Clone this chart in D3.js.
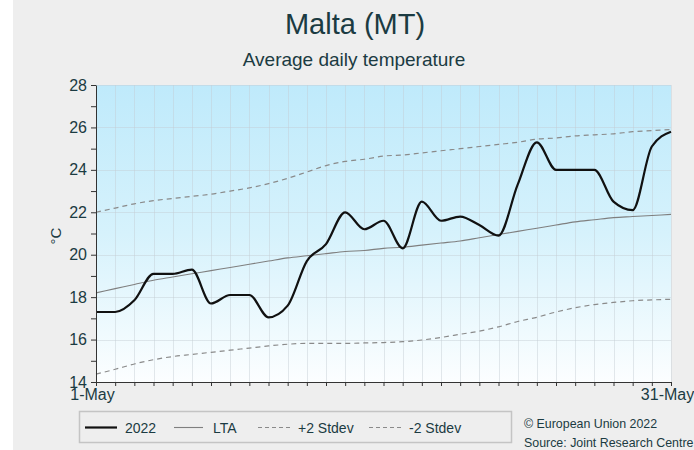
<!DOCTYPE html>
<html>
<head>
<meta charset="utf-8">
<script src="https://cdn.jsdelivr.net/npm/d3@7"></script>
<style>
  html, body { margin: 0; padding: 0; background: #ffffff; }
  svg { display: block; font-family: "Liberation Sans", Arial, sans-serif; }
</style>
</head>
<body>
<svg id="chart" width="694" height="450"></svg>
<script>
// Daily series for May 2022 (day 1..31), °C
const days = d3.range(1, 32);
const temp2022 = [17.3, 17.3, 17.85, 19.1, 19.1, 19.3, 17.7, 18.1, 18.1, 17.05, 17.6,
  19.7, 20.5, 22.0, 21.2, 21.6, 20.3, 22.5, 21.6, 21.8, 21.4, 20.9,
  23.3, 25.3, 24.0, 24.0, 24.0, 22.5, 22.1, 25.1, 25.8];
const lta = [18.2, 18.4, 18.6, 18.8, 18.95, 19.1, 19.25, 19.4, 19.55, 19.7, 19.85,
  19.95, 20.05, 20.15, 20.2, 20.3, 20.35, 20.45, 20.55, 20.65, 20.8, 20.95,
  21.1, 21.25, 21.4, 21.55, 21.65, 21.75, 21.8, 21.85, 21.9];
const plus2sd = [22.0, 22.2, 22.4, 22.55, 22.65, 22.75, 22.85, 23.0, 23.15, 23.35, 23.6,
  23.9, 24.2, 24.4, 24.5, 24.65, 24.7, 24.8, 24.9, 25.0, 25.1, 25.2,
  25.3, 25.45, 25.5, 25.6, 25.65, 25.7, 25.8, 25.85, 25.9];
const minus2sd = [14.37, 14.6, 14.85, 15.05, 15.2, 15.3, 15.4, 15.5, 15.6, 15.7, 15.78,
  15.82, 15.82, 15.82, 15.84, 15.86, 15.9, 15.98, 16.1, 16.25, 16.4, 16.6,
  16.85, 17.05, 17.3, 17.5, 17.65, 17.75, 17.83, 17.87, 17.9];
const xTickLabels = {1: "1-May", 31: "31-May"};
const yTicks = d3.range(14, 29, 1);

const textColor = "#1b3b42";
const svg = d3.select("#chart");

// panel background
svg.append("rect").attr("x", 13).attr("y", 0).attr("width", 681).attr("height", 450)
  .attr("fill", "#eeeeee");

const plotLeft = 96, plotRight = 671, plotTop = 85, plotBottom = 382;
const x = d3.scaleLinear().domain([1, 31]).range([plotLeft, plotRight]);
const y = d3.scaleLinear().domain([14, 28]).range([plotBottom, plotTop]);

// plot area gradient
const defs = svg.append("defs");
const grad = defs.append("linearGradient").attr("id", "bg")
  .attr("x1", 0).attr("y1", 0).attr("x2", 0).attr("y2", 1);
grad.append("stop").attr("offset", "0%").attr("stop-color", "#bfeafb");
grad.append("stop").attr("offset", "50%").attr("stop-color", "#d6f2fc");
grad.append("stop").attr("offset", "100%").attr("stop-color", "#fcfeff");
svg.append("rect").attr("x", plotLeft).attr("y", plotTop)
  .attr("width", plotRight - plotLeft).attr("height", plotBottom - plotTop).attr("fill", "url(#bg)");

// grid
const grid = svg.append("g").attr("stroke", "#c3cdd2").attr("stroke-opacity", 0.45).attr("stroke-width", 1);
grid.selectAll("line.v").data(days.slice(1)).join("line")
  .attr("x1", d => Math.round(x(d)) + 0.5).attr("x2", d => Math.round(x(d)) + 0.5)
  .attr("y1", plotTop).attr("y2", plotBottom);
grid.selectAll("line.h").data(d3.range(16, 29, 2)).join("line")
  .attr("x1", plotLeft).attr("x2", plotRight)
  .attr("y1", d => Math.round(y(d)) + 0.5).attr("y2", d => Math.round(y(d)) + 0.5);

// series
const line = d3.line().x((d, i) => x(days[i])).y(d => y(d)).curve(d3.curveMonotoneX);
svg.append("path").attr("d", line(minus2sd)).attr("fill", "none")
  .attr("stroke", "#8a8a8a").attr("stroke-width", 1.2).attr("stroke-dasharray", "5,4");
svg.append("path").attr("d", line(plus2sd)).attr("fill", "none")
  .attr("stroke", "#8a8a8a").attr("stroke-width", 1.2).attr("stroke-dasharray", "5,4");
svg.append("path").attr("d", line(lta)).attr("fill", "none")
  .attr("stroke", "#7f7f7f").attr("stroke-width", 1.1);
svg.append("path").attr("d", line(temp2022)).attr("fill", "none")
  .attr("stroke", "#111111").attr("stroke-width", 2.2).attr("stroke-linejoin", "round");

// y axis
const yAxis = d3.axisLeft(y).tickValues(yTicks).tickSize(5).tickSizeOuter(0).tickPadding(4)
  .tickFormat(d => d % 2 === 0 ? d : "");
const gy = svg.append("g").attr("transform", `translate(${plotLeft},0)`).call(yAxis);
gy.select(".domain").attr("stroke", "#333");
gy.selectAll(".tick line").attr("stroke", "#333");
gy.selectAll("text").attr("font-size", 16).attr("fill", textColor)
  .attr("font-family", "Liberation Sans, Arial, sans-serif");

// x axis
const xAxis = d3.axisBottom(x).tickValues(days).tickSize(4).tickSizeOuter(0).tickPadding(3)
  .tickFormat(d => xTickLabels[d] || "");
const gx = svg.append("g").attr("transform", `translate(0,${plotBottom})`).call(xAxis);
gx.select(".domain").attr("stroke", "#333");
gx.selectAll(".tick line").attr("stroke", "#333");
gx.selectAll("text").attr("font-size", 16).attr("fill", textColor).attr("dx", -4)
  .attr("font-family", "Liberation Sans, Arial, sans-serif");

// titles
svg.append("text").attr("x", 355).attr("y", 34).attr("text-anchor", "middle")
  .attr("font-size", 29).attr("fill", textColor).text("Malta (MT)");
svg.append("text").attr("x", 354).attr("y", 66).attr("text-anchor", "middle")
  .attr("font-size", 19).attr("fill", textColor).text("Average daily temperature");
svg.append("text").attr("transform", "translate(61,236) rotate(-90)").attr("text-anchor", "middle")
  .attr("font-size", 15).attr("fill", textColor).text("°C");

// legend
svg.append("rect").attr("x", 79.5).attr("y", 411.5).attr("width", 432).attr("height", 31)
  .attr("fill", "none").attr("stroke", "#c4c4c4").attr("stroke-width", 1.5);
const legendItems = [
  {label: "2022", x1: 85, x2: 117, tx: 125, color: "#111", w: 2.2, dash: null},
  {label: "LTA", x1: 174, x2: 203, tx: 213, color: "#7f7f7f", w: 1.1, dash: null},
  {label: "+2 Stdev", x1: 258, x2: 293, tx: 298, color: "#8a8a8a", w: 1.1, dash: "4,3"},
  {label: "-2 Stdev", x1: 369, x2: 403, tx: 409, color: "#8a8a8a", w: 1.1, dash: "4,3"}
];
const lg = svg.append("g").selectAll("g").data(legendItems).join("g");
lg.append("line").attr("x1", d => d.x1).attr("x2", d => d.x2).attr("y1", 427.5).attr("y2", 427.5)
  .attr("stroke", d => d.color).attr("stroke-width", d => d.w)
  .attr("stroke-dasharray", d => d.dash);
lg.append("text").attr("x", d => d.tx).attr("y", 432.5).attr("font-size", 14)
  .attr("fill", textColor).text(d => d.label);

// credits
svg.append("text").attr("x", 524).attr("y", 428).attr("font-size", 12.4)
  .attr("fill", textColor).text("© European Union 2022");
svg.append("text").attr("x", 524).attr("y", 447).attr("font-size", 12.4)
  .attr("fill", textColor).text("Source: Joint Research Centre");
</script>
</body>
</html>
